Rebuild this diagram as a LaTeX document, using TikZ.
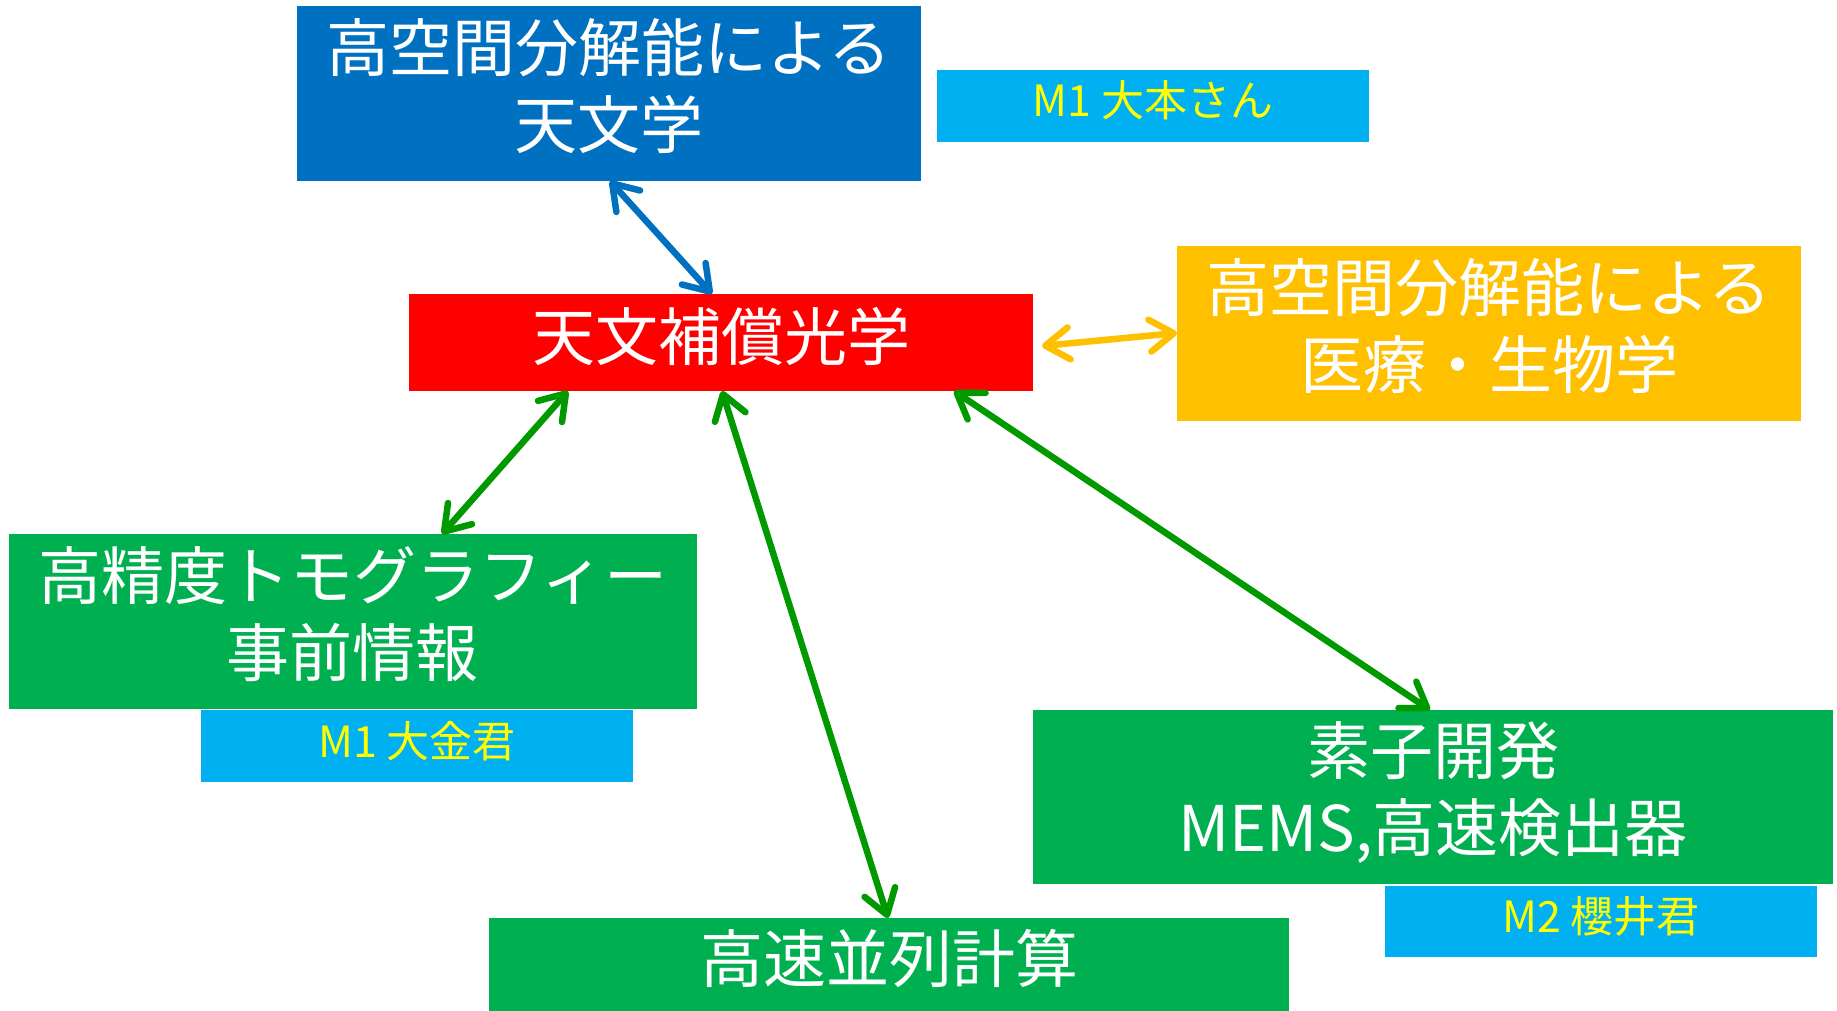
\documentclass[tikz,border=0pt]{standalone}
\usepackage{fontspec}
\setmainfont{Noto Sans CJK JP}
\usetikzlibrary{arrows.meta}
\definecolor{cBlue}{RGB}{0,112,192}
\definecolor{cRed}{RGB}{255,0,0}
\definecolor{cOrg}{RGB}{255,192,0}
\definecolor{cGrn}{RGB}{0,176,80}
\definecolor{cTag}{RGB}{0,176,240}
\definecolor{cYel}{RGB}{255,255,0}
\definecolor{cArr}{RGB}{0,153,0}
\begin{document}
\begin{tikzpicture}[x=1pt,y=1pt,
  panel/.style={inner sep=0pt, outer sep=0pt, anchor=north west, align=center,
    text=white, font=\fontsize{63}{77}\selectfont, text depth=20pt},
  onepanel/.style={panel, text height=55pt, text depth=20pt},
  tag/.style={inner sep=0pt, outer sep=0pt, anchor=north west, fill=cTag,
    text=cYel, font=\fontsize{43}{50}\selectfont, minimum width=432pt,
    text height=37pt, text depth=15pt},
  barb/.tip={Straight Barb[length=24pt,width=32pt,round]},
  link/.style={line width=6.5pt, barb-barb}]
\useasboundingbox (0,0) rectangle (1837,-1011);

\node[panel, fill=cBlue, minimum width=624pt, minimum height=175pt] (blue) at (297,-6)
  {高空間分解能による\\天文学};
\node[onepanel, fill=cRed, minimum width=624pt, minimum height=97pt] (red) at (409,-294)
  {天文補償光学};
\node[panel, fill=cOrg, minimum width=624pt, minimum height=175pt] (orange) at (1177,-246)
  {高空間分解能による\\医療・生物学};
\node[panel, fill=cGrn, minimum width=688pt, minimum height=175pt] (gl) at (9,-534)
  {高精度トモグラフィー\\事前情報};
\node[panel, fill=cGrn, minimum width=800pt, minimum height=174pt] (gr) at (1033,-710)
  {素子開発\\MEMS,高速検出器};
\node[onepanel, fill=cGrn, minimum width=800pt, minimum height=93pt] (bot) at (489,-918)
  {高速並列計算};

\node[tag, minimum height=72pt] (tagA) at (937,-70) {M1 大本さん};
\node[tag, minimum height=72pt] (tagB) at (201,-710) {M1 大金君};
\node[tag, minimum height=71pt] (tagC) at (1385,-886) {M2 櫻井君};

\draw[link, cBlue] ([xshift=313pt]blue.south west) -- ([xshift=303pt]red.north west);
\draw[link, cOrg] ([xshift=9pt,yshift=-52pt]red.north east) -- ([yshift=-87pt]orange.north west);
\draw[link, cArr] ([xshift=159pt]red.south west) -- ([xshift=433pt]gl.north west);
\draw[link, cArr] ([xshift=313pt]red.south west) -- ([xshift=399pt]bot.north west);
\draw[link, cArr] ([xshift=545pt]red.south west) -- ([xshift=397pt]gr.north west);
\end{tikzpicture}
\end{document}
